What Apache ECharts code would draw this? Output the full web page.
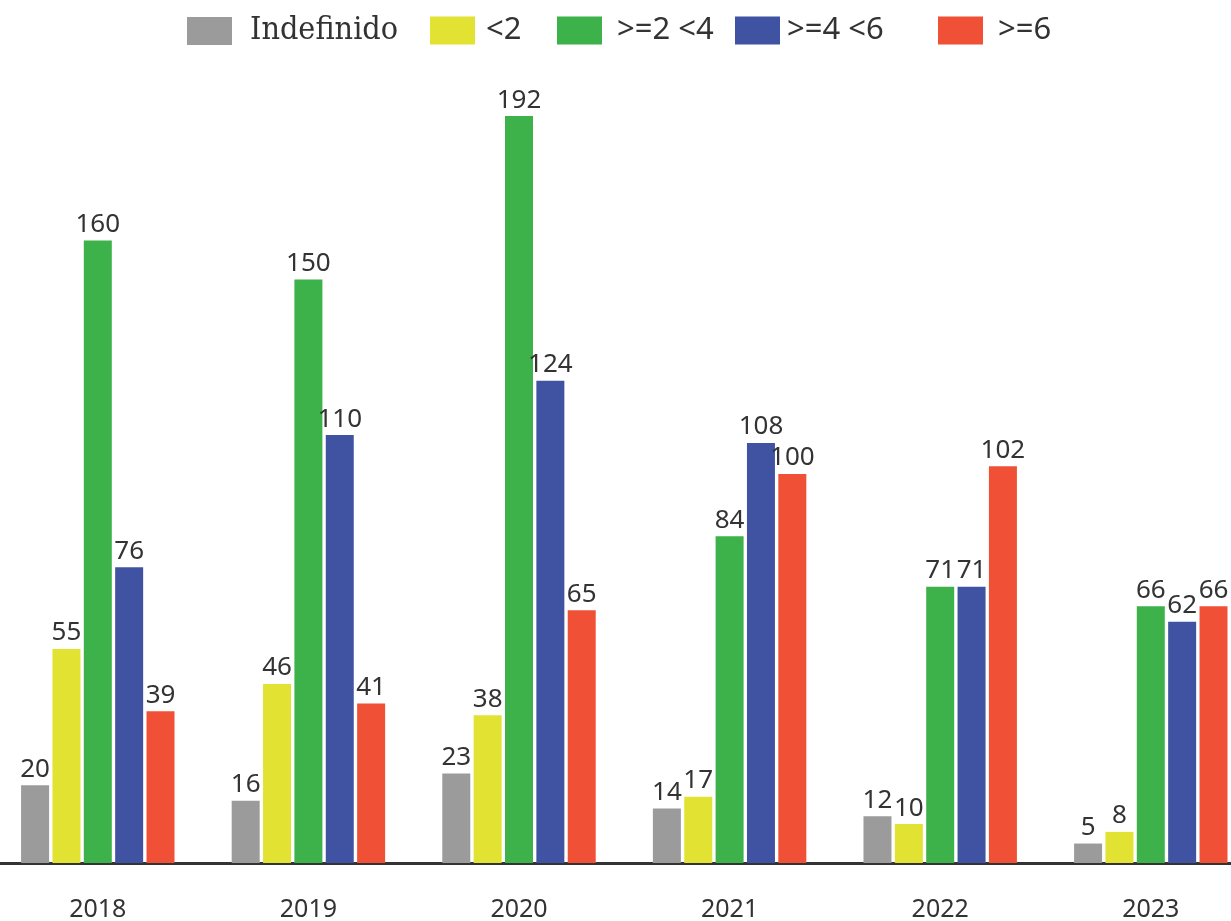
<!DOCTYPE html>
<html><head><meta charset="utf-8">
<script src="https://cdn.jsdelivr.net/npm/echarts@6/dist/echarts.min.js"></script>
<style>html,body{margin:0;padding:0;background:#fff}#c{width:1231px;height:921px}</style>
</head><body><div id="c"></div>
<script>
var categories = ['2018','2019','2020','2021','2022','2023'];
var seriesNames = ['Indefinido','<2','>=2 <4','>=4 <6','>=6'];
var indefinido = [20,16,23,14,12,5];
var lt2 = [55,46,38,17,10,8];
var ge2lt4 = [160,150,192,84,71,66];
var ge4lt6 = [76,110,124,108,71,62];
var ge6 = [39,41,65,100,102,66];
var seriesValues = [indefinido, lt2, ge2lt4, ge4lt6, ge6];
var colors = ['#9a9b9a','#e2e232','#3db14a','#4053a3','#f05136'];
var legendLefts = [187,430,557,735,938];
var legendPads = [13,6,10,2,10];

var chart = echarts.init(document.getElementById('c'));
var legends = seriesNames.map(function(n,i){
  var serif = (i === 0);
  return {
    data:[n], left: legendLefts[i], top: 15,
    itemWidth: 45, itemHeight: 28, itemGap: 0, padding: 0,
    icon: 'rect',
    textStyle:{
      fontFamily: serif ? 'DejaVu Serif Condensed' : 'Noto Sans',
      fontSize: serif ? 32 : 31, color:'#333', padding:[5,0,0,legendPads[i]]
    }
  };
});
chart.setOption({
  animation:false,
  color: colors,
  legend: legends,
  grid:{left:-7.5, width:1263.6, top:85, bottom:58, containLabel:false, outerBoundsMode:'none'},
  xAxis:{type:'category', data:categories,
    axisLine:{lineStyle:{color:'#333', width:3}},
    axisTick:{show:false},
    axisLabel:{fontFamily:'Noto Sans', fontSize:25, color:'#333', margin:34}
  },
  yAxis:{type:'value', min:0, max:200, show:false, splitLine:{show:false}},
  series: seriesNames.map(function(n,i){
    return {name:n, type:'bar', data:seriesValues[i], barWidth:28, barGap:'12%',
      itemStyle:{color:colors[i]},
      label:{show:true, position:'top', distance:3, fontFamily:'Noto Sans', fontSize:26, color:'#333'}
    };
  })
});
</script></body></html>
